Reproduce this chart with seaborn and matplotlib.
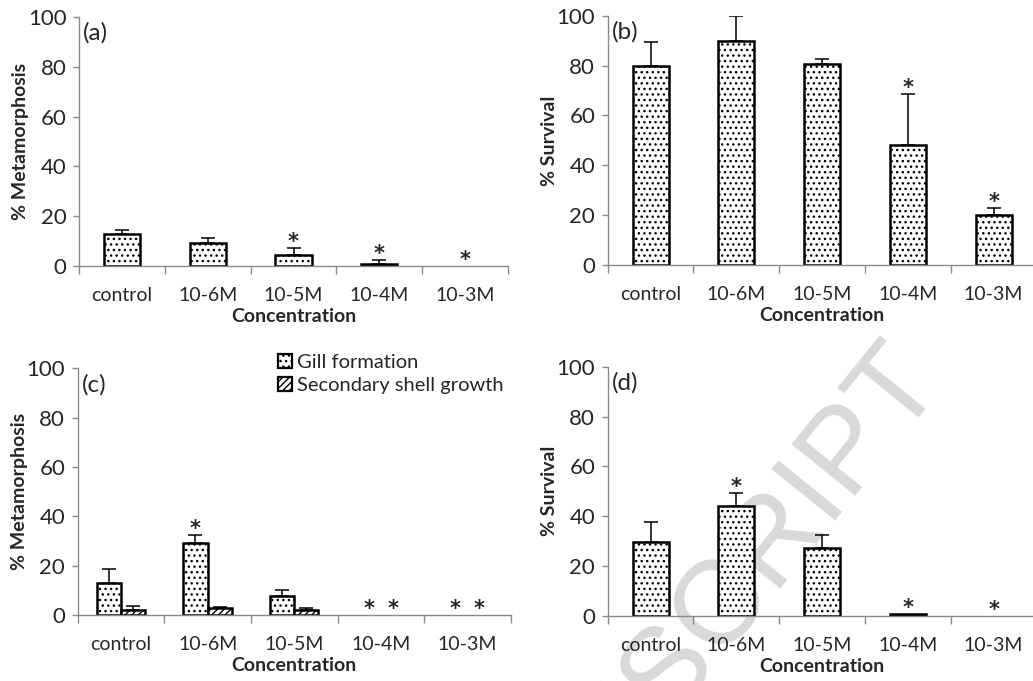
import numpy as np
import pandas as pd
import matplotlib
matplotlib.use("Agg")
import matplotlib.pyplot as plt
import seaborn as sns
from matplotlib.patches import Patch

# ---------------- data ----------------
categories = ["control", "10-6M", "10-5M", "10-4M", "10-3M"]

a_metamorphosis = [12.7, 9.2, 4.4, 0.8, 0.0]
a_err = [1.9, 2.2, 3.0, 1.7, 0.0]
a_sig = [False, False, True, True, True]

b_survival = [79.7, 89.9, 80.8, 48.3, 20.2]
b_err = [9.9, 10.1, 2.0, 20.2, 2.7]
b_sig = [False, False, False, True, True]

c_gill = [13.1, 29.3, 7.8, 0.0, 0.0]
c_gill_err = [5.4, 3.1, 2.3, 0.0, 0.0]
c_gill_sig = [False, True, False, True, True]
c_shell = [2.0, 2.8, 2.0, 0.0, 0.0]
c_shell_err = [1.8, 0.4, 0.7, 0.0, 0.0]
c_shell_sig = [False, False, False, True, True]

d_survival = [29.7, 44.2, 27.0, 0.7, 0.0]
d_err = [7.8, 5.2, 5.4, 0.0, 0.0]
d_sig = [False, True, False, True, True]

series_names = ["Gill formation", "Secondary shell growth"]
y_ticks = [0, 20, 40, 60, 80, 100]
panel_labels = ["(a)", "(b)", "(c)", "(d)"]
y_titles = ["% Metamorphosis", "% Survival", "% Metamorphosis", "% Survival"]
x_title = "Concentration"
watermark = "MANUSCRIPT"

# ---------------- style ----------------
sns.set_theme(style="white")
plt.rcParams["font.family"] = ["Lato", "DejaVu Sans"]
plt.rcParams["hatch.linewidth"] = 1.0

GRAY = "#8a8a8a"
TXT = "#262626"
W, H = 1033, 681

fig = plt.figure(figsize=(W / 100, H / 100), dpi=100)


def rect(l, r, t, b):
    return [l / W, 1 - b / H, (r - l) / W, (b - t) / H]


ax_a = fig.add_axes(rect(79, 508, 17, 266))
ax_b = fig.add_axes(rect(607.7, 1036.5, 15.7, 265))
ax_c = fig.add_axes(rect(77.7, 510.7, 368.3, 615))
ax_d = fig.add_axes(rect(607.7, 1036.5, 366.7, 615.7))
axes = [ax_a, ax_b, ax_c, ax_d]

DOTS = "..."
DIAG = "/////"


def single_bars(ax, vals):
    sns.barplot(x=categories, y=vals, ax=ax, color="white", edgecolor="black",
                linewidth=1.8, width=0.42, hatch=DOTS, saturation=1)


def finish_bars(ax):
    for p in ax.patches:
        p.set_facecolor("white")
        if p.get_height() <= 0:
            p.set_visible(False)


def errs_and_stars(ax, patches, vals, errs, sigs):
    xs = [p.get_x() + p.get_width() / 2 for p in patches]
    ex = [x for x, e in zip(xs, errs) if e > 0]
    ev = [v for v, e in zip(vals, errs) if e > 0]
    ee = [e for e in errs if e > 0]
    if ex:
        ax.errorbar(ex, ev, yerr=[np.zeros(len(ee)), ee], fmt="none",
                    ecolor="black", elinewidth=1.1, capsize=5, capthick=1.1,
                    zorder=1)
    for x, v, e, s in zip(xs, vals, errs, sigs):
        if s:
            ax.annotate("*", (x, v + e), xytext=(0, 0),
                        textcoords="offset points", ha="center",
                        va="baseline", fontsize=15, fontweight="bold",
                        color=TXT, family="DejaVu Sans")


# (a)
single_bars(ax_a, a_metamorphosis)
finish_bars(ax_a)
errs_and_stars(ax_a, list(ax_a.patches), a_metamorphosis, a_err, a_sig)

# (b)
single_bars(ax_b, b_survival)
finish_bars(ax_b)
errs_and_stars(ax_b, list(ax_b.patches), b_survival, b_err, b_sig)

# (c)
df_c = pd.DataFrame({
    "Concentration": categories * 2,
    "value": c_gill + c_shell,
    "series": [series_names[0]] * len(categories) + [series_names[1]] * len(categories),
})
sns.barplot(data=df_c, x="Concentration", y="value", hue="series", ax=ax_c,
            palette=["white", "white"], edgecolor="black", linewidth=1.8,
            width=0.56, saturation=1, legend=False)
gill_patches = list(ax_c.containers[0])
shell_patches = list(ax_c.containers[1])
for p in gill_patches:
    p.set_hatch(DOTS)
for p in shell_patches:
    p.set_hatch(DIAG)
finish_bars(ax_c)
errs_and_stars(ax_c, gill_patches, c_gill, c_gill_err, c_gill_sig)
errs_and_stars(ax_c, shell_patches, c_shell, c_shell_err, c_shell_sig)
handles = [Patch(facecolor="white", edgecolor="black", hatch=DOTS, linewidth=1.6),
           Patch(facecolor="white", edgecolor="black", hatch=DIAG, linewidth=1.6)]
ax_c.legend(handles, series_names, loc="upper left",
            bbox_to_anchor=((278 - 77.7) / 433, (615 - 354) / 246.7),
            frameon=False, handlelength=0.7, handleheight=0.7,
            handletextpad=0.25, labelspacing=0.3, borderaxespad=0,
            borderpad=0, fontsize=14.5, labelcolor=TXT)

# (d)
single_bars(ax_d, d_survival)
finish_bars(ax_d)
errs_and_stars(ax_d, list(ax_d.patches), d_survival, d_err, d_sig)

# ---------------- axes styling ----------------
for ax, lab, yt in zip(axes, panel_labels, y_titles):
    ax.set_facecolor("none")
    ax.set_xlim(-0.5, len(categories) - 0.5)
    ax.set_ylim(0, 100)
    ax.set_yticks(y_ticks)
    ax.set_xticks(range(len(categories)))
    ax.set_xticklabels(categories)
    ax.set_xticks(np.arange(-0.5, len(categories), 1.0), minor=True)
    for s in ["top", "right"]:
        ax.spines[s].set_visible(False)
    for s in ["left", "bottom"]:
        ax.spines[s].set_color(GRAY)
        ax.spines[s].set_linewidth(1.0)
    ax.tick_params(axis="y", which="major", left=True, length=4, width=1,
                   color=GRAY, labelsize=16, labelcolor=TXT, pad=5)
    ax.tick_params(axis="x", which="major", bottom=True, length=0,
                   labelsize=14, labelcolor=TXT, pad=15)
    ax.tick_params(axis="x", which="minor", bottom=True, length=6, width=1,
                   color=GRAY)
    ax.set_xlabel(x_title, fontweight="bold", fontsize=14, color=TXT, labelpad=3)
    ax.set_ylabel(yt, fontweight="bold", fontsize=14, color=TXT, labelpad=-1)
    ax.text(0.01, 0.935, lab, transform=ax.transAxes, ha="left", va="center",
            fontsize=17.5, color=TXT)

# ---------------- watermark ----------------
fig.text(942 / W, 1 - 377 / H, watermark, rotation=51, rotation_mode="anchor",
         ha="right", va="baseline", fontsize=86, color="#d9d9d9",
         family="Liberation Sans", zorder=-1)

fig.savefig("out.png", dpi=100)
